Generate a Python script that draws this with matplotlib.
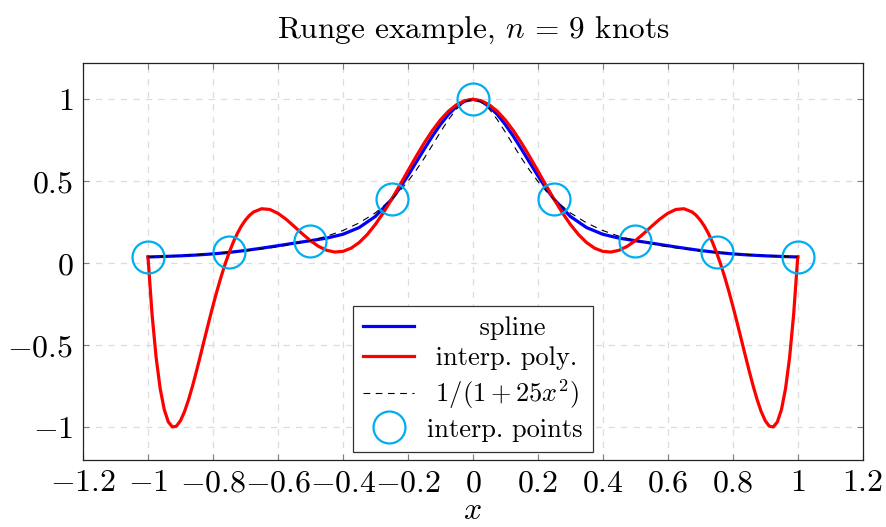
import numpy as np
import matplotlib
matplotlib.use('Agg')
import matplotlib.pyplot as plt
from matplotlib.ticker import FixedLocator, FuncFormatter

plt.rcParams['font.family'] = 'serif'
plt.rcParams['font.serif'] = ['cmr10']
plt.rcParams['mathtext.fontset'] = 'cm'
plt.rcParams['axes.formatter.use_mathtext'] = True

# interpolation knots (equally spaced, n = 9)
x_knots = [-1.0, -0.75, -0.5, -0.25, 0.0, 0.25, 0.5, 0.75, 1.0]
y_knots = [0.0385, 0.0664, 0.1379, 0.3902, 1.0, 0.3902, 0.1379, 0.0664, 0.0385]

# the curves are even, so only the half x >= 0 is listed
x_poly = [0, 0.025, 0.05, 0.075, 0.1, 0.125, 0.15, 0.175, 0.2, 0.225, 0.25,
          0.275, 0.3, 0.325, 0.35, 0.375, 0.4, 0.425, 0.45, 0.475, 0.5, 0.525,
          0.55, 0.575, 0.6, 0.625, 0.65, 0.675, 0.6875, 0.7, 0.7125, 0.725,
          0.7375, 0.75, 0.7625, 0.775, 0.7875, 0.8, 0.8125, 0.825, 0.8375,
          0.85, 0.8625, 0.875, 0.8875, 0.9, 0.9125, 0.925, 0.9375, 0.95,
          0.9625, 0.975, 0.9875, 1.0]
y_poly = [1.0, 0.9918, 0.9674, 0.9277, 0.8740, 0.8083, 0.7328, 0.6503, 0.5636,
          0.4759, 0.3902, 0.3098, 0.2374, 0.1756, 0.1266, 0.0919, 0.0726,
          0.0686, 0.0794, 0.1033, 0.1379, 0.1799, 0.2251, 0.2686, 0.3049,
          0.3283, 0.3327, 0.3129, 0.2922, 0.2638, 0.2272, 0.1821, 0.1285,
          0.0664, -0.0040, -0.0822, -0.1674, -0.2587, -0.3547, -0.4538,
          -0.5536, -0.6520, -0.7456, -0.8310, -0.9041, -0.9600, -0.9934,
          -0.9980, -0.9667, -0.8916, -0.7641, -0.5741, -0.3105, 0.0385]

x_spline = [0, 0.025, 0.05, 0.075, 0.1, 0.125, 0.15, 0.175, 0.2, 0.225, 0.25,
            0.3, 0.35, 0.4, 0.45, 0.5, 0.55, 0.6, 0.65, 0.7, 0.75, 0.8, 0.85,
            0.9, 0.95, 1.0]
y_spline = [1.0, 0.9886, 0.9567, 0.9079, 0.8457, 0.7737, 0.6954, 0.6143,
            0.5341, 0.4582, 0.3902, 0.2859, 0.2179, 0.1769, 0.1534, 0.1379,
            0.1229, 0.1073, 0.0922, 0.0782, 0.0664, 0.0573, 0.0505, 0.0455,
            0.0417, 0.0385]

x_runge = [0, 0.025, 0.05, 0.075, 0.1, 0.125, 0.15, 0.175, 0.2, 0.225, 0.25,
           0.3, 0.35, 0.4, 0.45, 0.5, 0.6, 0.7, 0.8, 0.9, 1.0]
y_runge = [1.0, 0.9846, 0.9412, 0.8767, 0.8, 0.7191, 0.64, 0.5664, 0.5, 0.4414,
           0.3902, 0.3077, 0.2462, 0.2, 0.1649, 0.1379, 0.1, 0.0755, 0.0588,
           0.0471, 0.0385]

x_ticks = [-1.2, -1.0, -0.8, -0.6, -0.4, -0.2, 0, 0.2, 0.4, 0.6, 0.8, 1.0, 1.2]
y_ticks = [-1.0, -0.5, 0, 0.5, 1.0]


def mirror(x, y):
    x = np.asarray(x, dtype=float)
    y = np.asarray(y, dtype=float)
    return np.concatenate([-x[:0:-1], x]), np.concatenate([y[:0:-1], y])


def tick_fmt(v, pos):
    s = ('%.1f' % v).rstrip('0').rstrip('.')
    if s in ('-0', ''):
        s = '0'
    return '$%s$' % s


fig = plt.figure(figsize=(8.86, 5.27), dpi=100)
ax = fig.add_axes([0.0937, 0.127, 0.8800, 0.753])

xs, ys = mirror(x_spline, y_spline)
xp, yp = mirror(x_poly, y_poly)
xr, yr = mirror(x_runge, y_runge)

ax.plot(xs, ys, color='#0000ff', lw=2.3, label='      spline', zorder=3)
ax.plot(xp, yp, color='#ff0000', lw=2.3, label=' interp. poly.', zorder=4)
ax.plot(xr, yr, color='black', lw=0.8, ls=(0, (6, 5)),
        label=r' $1/(1+25x^2)$', zorder=5)
ax.plot(x_knots, y_knots, 'o', ms=23, mfc='none', mec='#00aeef', mew=1.6,
        label='interp. points', zorder=6)

ax.set_xlim(-1.2, 1.2)
ax.set_ylim(-1.2, 1.22)
ax.xaxis.set_major_locator(FixedLocator(x_ticks))
ax.yaxis.set_major_locator(FixedLocator(y_ticks))
ax.xaxis.set_major_formatter(FuncFormatter(tick_fmt))
ax.yaxis.set_major_formatter(FuncFormatter(tick_fmt))
ax.tick_params(direction='in', top=True, right=True, length=4, width=0.8,
               color='#808080', labelsize=23, pad=7)

ax.set_axisbelow(True)
ax.grid(True, color='#dcdcdc', lw=0.9, ls=(0, (5, 5)))
for sp in ax.spines.values():
    sp.set_color('#222222')
    sp.set_linewidth(0.9)

ax.set_xlabel('$x$', fontsize=23, labelpad=0)
ax.set_title('Runge example, $n\\,=\\,9$ knots', fontsize=22.5, pad=18)

leg = ax.legend(loc='lower center', bbox_to_anchor=(0.5, 0.02),
                borderaxespad=0, fontsize=19, handlelength=1.9,
                handletextpad=0.5, labelspacing=0.26, borderpad=0.4,
                fancybox=False, framealpha=1, edgecolor='#333333',
                numpoints=1)
leg.get_frame().set_linewidth(0.9)

fig.savefig('out.png', dpi=100)
